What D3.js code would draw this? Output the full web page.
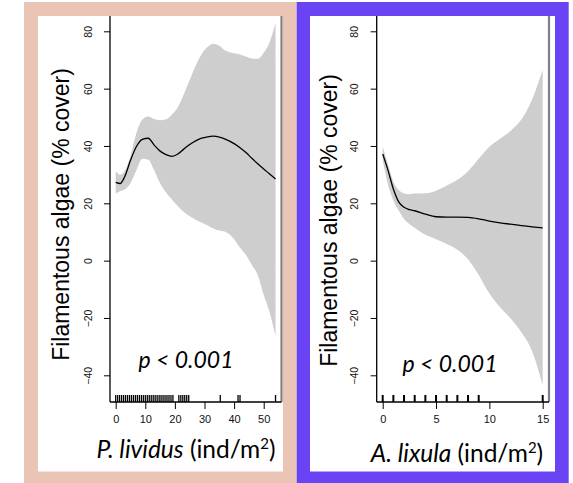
<!DOCTYPE html>
<html>
<head>
<meta charset="utf-8">
<script src="https://cdn.jsdelivr.net/npm/d3@7"></script>
<style>
  html, body { margin: 0; padding: 0; background: #fff; }
  svg { display: block; }
</style>
</head>
<body>
<div id="chart"></div>
<script>
// Data
const yTicks = [-40, -20, 0, 20, 40, 60, 80];

// P. lividus panel
const livX = [0, 1.5, 3, 5, 7, 9, 11, 13, 15, 17, 19, 21, 23, 25, 27, 29, 31, 33, 35, 37, 40, 42, 44, 46, 48, 50, 52, 54];
const livFit = [27.3, 26.9, 29.2, 35, 39.8, 42.3, 42.7, 40.3, 38.2, 37, 36.4, 37.2, 38.9, 40.5, 41.8, 42.7, 43.2, 43.4, 43.1, 42.4, 40.8, 39.4, 37.7, 35.7, 33.8, 32, 30.2, 28.5];
const livUpper = [31.2, 30, 31.2, 36.5, 44.5, 49.2, 50.3, 49.4, 49, 49.3, 51, 53.5, 58, 63, 68, 72, 74.5, 75.7, 75, 73.3, 72.3, 71.9, 71.2, 70.5, 70.4, 72.5, 76.3, 82.9];
const livLower = [23.4, 24.2, 24.8, 27, 31.5, 35.5, 35.2, 31.5, 27, 23.8, 21.3, 19, 17, 15.5, 14.3, 13.3, 12.3, 11.2, 10.5, 10.1, 7.5, 4.5, 2, -1.5, -5, -12, -18, -26.4];
const livRug = [0, 0.67, 1.33, 2, 2.67, 3.33, 4, 4.67, 5.33, 6, 6.67, 7.33, 8, 8.67, 9.33, 10, 10.67, 11.33, 12, 12.67, 13.33, 14, 14.67, 15.33, 16, 16.67, 17.33, 18, 18.67, 19.33, 21.33, 22, 22.67, 23.33, 24, 24.67, 35.33, 41.33, 42, 54];
const livTicks = [0, 10, 20, 30, 40, 50];

// A. lixula panel
const lixX = [0, 0.5, 1, 1.5, 2, 2.5, 3, 4, 5, 6, 7, 8, 9, 10, 11, 12, 13, 14, 15];
const lixFit = [37.2, 31.5, 25, 20.5, 18.6, 17.8, 17.4, 16.2, 15.3, 15.2, 15.2, 15.1, 14.6, 13.8, 13.2, 12.7, 12.2, 11.8, 11.4];
const lixUpper = [39.9, 33.5, 27.5, 24.6, 23.4, 23.2, 23.4, 23.5, 24.4, 26.2, 28.2, 31.2, 35.5, 39.7, 42.5, 45.3, 49.2, 56.2, 66.6];
const lixLower = [35, 26.5, 21, 17.5, 14.5, 12.8, 11.5, 9, 7.5, 5.8, 3.8, 0.5, -5, -11.5, -16.3, -20.2, -25, -31.5, -43.5];
const lixRug = [0, 1, 2, 3, 4, 5, 6, 7, 8, 9, 15];
const lixTicks = [0, 5, 10, 15];

const svg = d3.select("#chart")
  .append("svg")
  .attr("width", 573)
  .attr("height", 483);

const tickFont = "'Liberation Sans', Arial, sans-serif";
const titleFont = "Lato, 'Open Sans', sans-serif";

// shared y scale
const yScale = d3.scaleLinear().domain([-40, 80]).range([375.3, 31.3]);

function drawPanel(p) {
  // frame
  svg.append("rect")
    .attr("x", p.outer[0]).attr("y", p.outer[1])
    .attr("width", p.outer[2]).attr("height", p.outer[3])
    .attr("fill", p.frameColor);
  svg.append("rect")
    .attr("x", p.inner[0]).attr("y", p.inner[1])
    .attr("width", p.inner[2]).attr("height", p.inner[3])
    .attr("fill", "#fff");

  const x = d3.scaleLinear().domain(p.xDomain).range(p.xRange);
  const rows = p.xs.map((v, i) => ({ x: v, fit: p.fit[i], lo: p.lower[i], hi: p.upper[i] }));

  // confidence band
  const area = d3.area()
    .x(d => x(d.x))
    .y0(d => yScale(d.lo))
    .y1(d => yScale(d.hi))
    .curve(d3.curveMonotoneX);
  svg.append("path")
    .datum(rows)
    .attr("d", area)
    .attr("fill", "#cecece");

  // fitted line
  const line = d3.line()
    .x(d => x(d.x))
    .y(d => yScale(d.fit))
    .curve(d3.curveMonotoneX);
  svg.append("path")
    .datum(rows)
    .attr("d", line)
    .attr("fill", "none")
    .attr("stroke", "#000")
    .attr("stroke-width", 1.3);

  // gray right edge
  svg.append("line")
    .attr("x1", p.grayX).attr("x2", p.grayX)
    .attr("y1", 16).attr("y2", 402)
    .attr("stroke", "#808080")
    .attr("stroke-width", 2.2);

  // y axis
  const yAxis = svg.append("g")
    .attr("transform", `translate(${p.axisX},0)`)
    .call(d3.axisLeft(yScale).tickValues(yTicks).tickSize(6).tickSizeOuter(0));
  yAxis.select(".domain").remove();
  yAxis.selectAll(".tick line").attr("stroke", "#000");
  yAxis.selectAll(".tick text")
    .attr("x", 0)
    .attr("y", -18.3)
    .attr("dy", null)
    .attr("transform", "rotate(-90)")
    .attr("text-anchor", "middle")
    .style("font-family", tickFont)
    .style("font-size", "10.5px")
    .attr("fill", "#111");
  svg.append("line")
    .attr("x1", p.axisX).attr("x2", p.axisX)
    .attr("y1", 16).attr("y2", 402)
    .attr("stroke", "#000").attr("stroke-width", 1.3);

  // x axis
  const xAxis = svg.append("g")
    .attr("transform", "translate(0,402)")
    .call(d3.axisBottom(x).tickValues(p.ticks).tickSize(7).tickPadding(6).tickSizeOuter(0));
  xAxis.select(".domain").remove();
  xAxis.selectAll(".tick line").attr("stroke", "#000");
  xAxis.selectAll(".tick text")
    .style("font-family", tickFont)
    .style("font-size", "11px")
    .attr("fill", "#111");
  svg.append("line")
    .attr("x1", p.axisX).attr("x2", p.grayX)
    .attr("y1", 402).attr("y2", 402)
    .attr("stroke", "#000").attr("stroke-width", 1.3);

  // rug
  svg.append("g")
    .attr("class", "rug")
    .selectAll("line")
    .data(p.rug)
    .join("line")
    .attr("x1", d => x(d)).attr("x2", d => x(d))
    .attr("y1", 395)
    .attr("y2", 402)
    .attr("stroke", "#000")
    .attr("stroke-width", p.rugWidth);

  // y title
  svg.append("text")
    .attr("transform", `translate(${p.yTitle[0]},${p.yTitle[1]}) rotate(-90)`)
    .attr("text-anchor", "middle")
    .style("font-family", tickFont)
    .style("font-size", "23px")
    .attr("fill", "#000")
    .text("Filamentous algae (% cover)");

  // p value
  svg.append("text")
    .attr("x", p.pPos[0]).attr("y", p.pPos[1])
    .attr("text-anchor", "middle")
    .style("font-family", titleFont)
    .style("font-style", "italic")
    .style("font-size", "23px")
    .attr("fill", "#000")
    .text("p < 0.001");

  // x title
  const xt = svg.append("text")
    .attr("x", p.xTitle[0]).attr("y", p.xTitle[1])
    .attr("text-anchor", "middle")
    .style("font-family", titleFont)
    .style("font-size", "24.5px")
    .attr("fill", "#000");
  xt.append("tspan").style("font-style", "italic").text(p.species);
  xt.append("tspan").text(" (ind/m");
  xt.append("tspan").attr("dy", -9).style("font-size", "15px").text("2");
  xt.append("tspan").attr("dy", 9).text(")");
}

drawPanel({
  frameColor: "#eac4b4",
  outer: [24, 2, 272.7, 481],
  inner: [38, 16, 245, 455.5],
  xDomain: [0, 50], xRange: [115.7, 263.7],
  xs: livX, fit: livFit, upper: livUpper, lower: livLower, rug: livRug, ticks: livTicks,
  rugWidth: 1.3,
  axisX: 110, grayX: 281.5,
  yTitle: [68.5, 214.5],
  pPos: [186, 367.7],
  xTitle: [186, 458],
  species: "P. lividus"
});

drawPanel({
  frameColor: "#6a43f5",
  outer: [296.7, 2, 272, 481],
  inner: [310, 16, 245, 455.5],
  xDomain: [0, 15], xRange: [382.7, 542.7],
  xs: lixX, fit: lixFit, upper: lixUpper, lower: lixLower, rug: lixRug, ticks: lixTicks,
  rugWidth: 2,
  axisX: 376.7, grayX: 549,
  yTitle: [336.7, 220.5],
  pPos: [450, 372.3],
  xTitle: [457, 461.7],
  species: "A. lixula"
});
</script>
</body>
</html>
